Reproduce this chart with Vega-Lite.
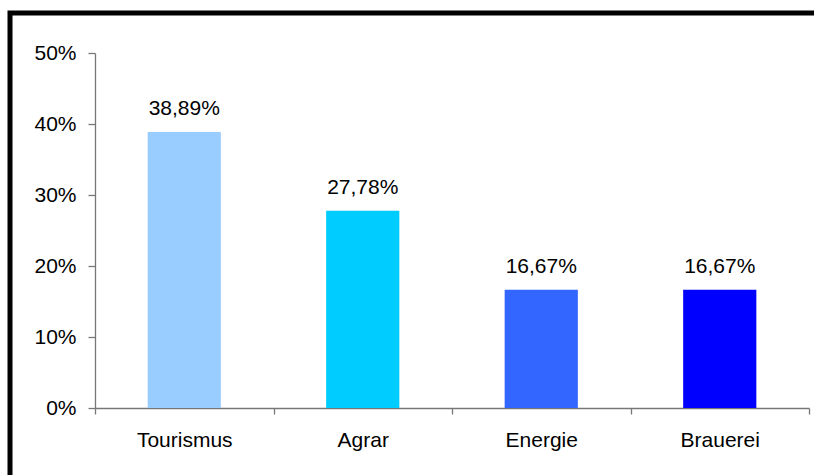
{
  "$schema": "https://vega.github.io/schema/vega-lite/v6.json",
  "width": 812,
  "height": 470,
  "autosize": {"type": "none"},
  "padding": {"left": 10, "top": 13, "right": 0, "bottom": 0},
  "background": "white",
  "config": {
    "view": {"stroke": "black", "strokeWidth": 5},
    "font": "Liberation Sans",
    "locale": {
      "number": {"decimal": ",", "thousands": ".", "grouping": [3], "currency": ["", " €"]}
    },
    "axis": {
      "grid": false,
      "domainColor": "#777777",
      "domainWidth": 1.3,
      "tickColor": "#777777",
      "tickWidth": 1.3,
      "labelColor": "black",
      "labelFontSize": 21,
      "labelFont": "Liberation Sans",
      "title": null
    }
  },
  "data": {
    "values": [
      {"bereich": "Tourismus", "anteil": 0.3889},
      {"bereich": "Agrar", "anteil": 0.2778},
      {"bereich": "Energie", "anteil": 0.1667},
      {"bereich": "Brauerei", "anteil": 0.1667}
    ]
  },
  "encoding": {
    "x": {
      "field": "bereich",
      "type": "nominal",
      "sort": null,
      "scale": {"paddingInner": 0, "paddingOuter": 0, "range": [85, 799]},
      "axis": {"labelAngle": 0, "tickBand": "extent", "tickSize": 6, "labelPadding": 15, "offset": -75}
    },
    "y": {
      "field": "anteil",
      "type": "quantitative",
      "scale": {"domain": [0, 0.5], "range": [395, 40], "nice": false},
      "axis": {"values": [0, 0.1, 0.2, 0.3, 0.4, 0.5], "format": ".0%", "tickSize": 7, "labelPadding": 12, "offset": -85}
    }
  },
  "layer": [
    {
      "mark": {"type": "bar", "width": {"band": 0.41}},
      "encoding": {
        "color": {
          "field": "bereich",
          "type": "nominal",
          "scale": {
            "domain": ["Tourismus", "Agrar", "Energie", "Brauerei"],
            "range": ["#99CCFF", "#00CCFF", "#3366FF", "#0000FF"]
          },
          "legend": null
        }
      }
    },
    {
      "mark": {"type": "text", "baseline": "alphabetic", "dy": -17, "fontSize": 21, "color": "black"},
      "encoding": {
        "text": {"field": "anteil", "type": "quantitative", "format": ".2%"}
      }
    }
  ]
}
